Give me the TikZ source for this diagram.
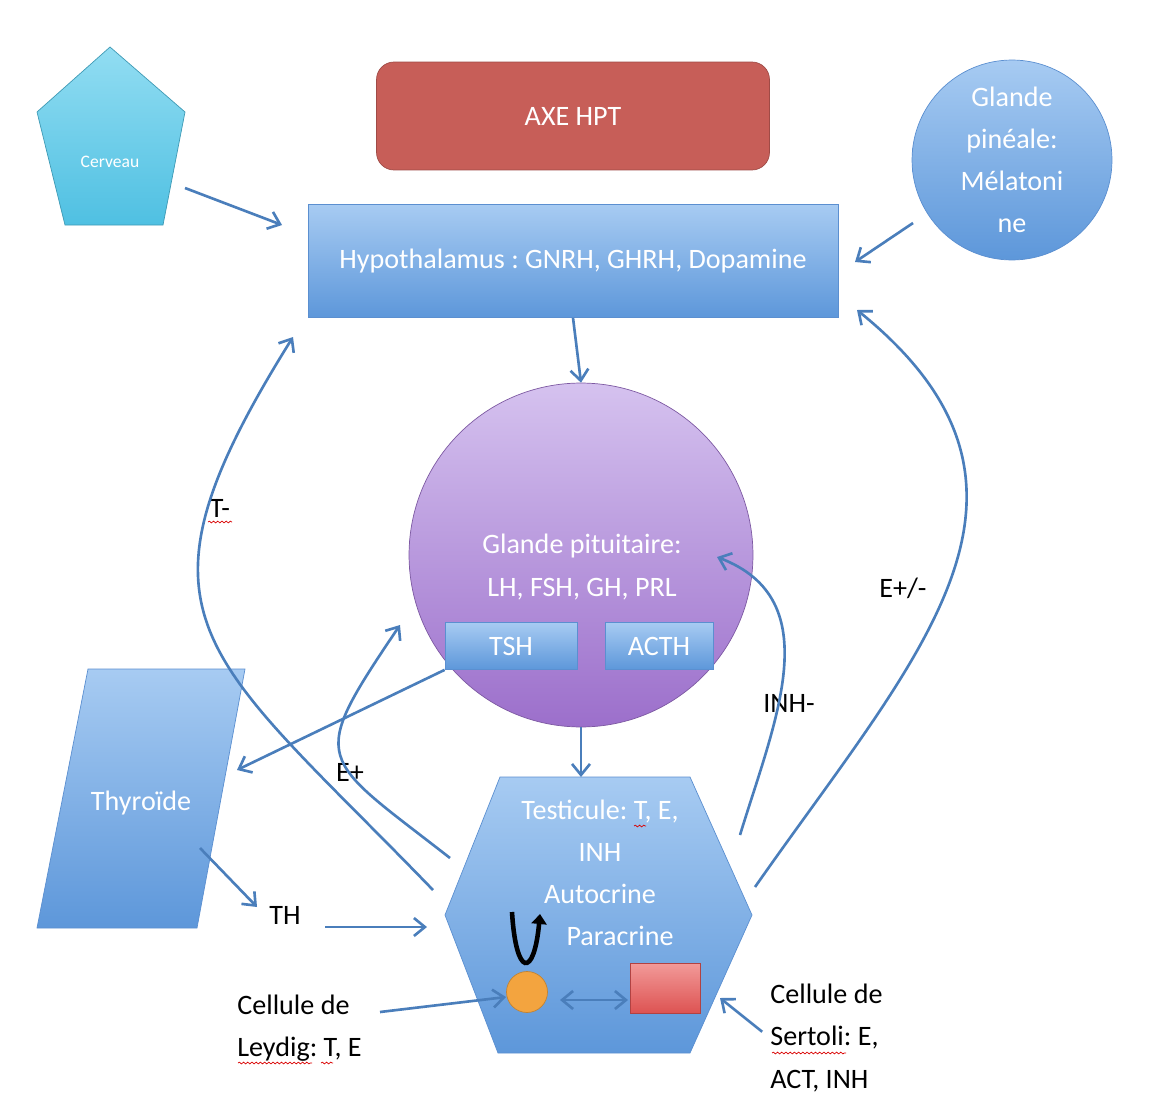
\documentclass[tikz,border=0pt]{standalone}
\usepackage{fontspec}
\setmainfont{Carlito}
\usetikzlibrary{arrows.meta,decorations.pathmorphing}
\frenchspacing

\definecolor{arrowblue}{HTML}{4A7EBB}
\definecolor{boxtop}{HTML}{A7CBF2}
\definecolor{boxbot}{HTML}{5D97DA}
\definecolor{boxline}{HTML}{5B8FD0}
\definecolor{purtop}{HTML}{D5C2EF}
\definecolor{purbot}{HTML}{9C6FCB}
\definecolor{cyantop}{HTML}{92DDF2}
\definecolor{cyanbot}{HTML}{4FC0E2}
\definecolor{axered}{HTML}{C75E58}
\definecolor{orangecell}{HTML}{F3A43F}
\definecolor{redtop}{HTML}{F29A99}
\definecolor{redbot}{HTML}{DD5352}

\newcommand{\bigtxt}{\fontsize{16}{24}\selectfont}

\tikzset{
  gland/.style={draw=boxline, top color=boxtop, bottom color=boxbot, text=white, font=\bigtxt},
  flow/.style={draw=arrowblue, line width=1.5pt, -{Straight Barb[length=2.2mm,width=3.6mm]}},
  lbl/.style={text=black, font=\bigtxt, inner sep=0pt},
  spell/.style={draw=red!85!black, line width=0.4pt, decorate, decoration={snake, amplitude=0.5pt, segment length=2.4pt}}
}

\begin{document}
\begin{tikzpicture}[x=0.02cm, y=0.02cm]
  \useasboundingbox (0,0) rectangle (1162,-1095);

  % Shapes drawn by hand
  \draw[draw=cyanbot!80!black, top color=cyantop, bottom color=cyanbot]
    (110,-47) -- (185,-112) -- (163,-225) -- (65,-225) -- (37,-112) -- cycle;
  \draw[draw=boxline, top color=boxtop, bottom color=boxbot]
    (88,-669) -- (245,-669) -- (197,-928) -- (37,-928) -- cycle;
  \draw[draw=boxline, top color=boxtop, bottom color=boxbot]
    (500,-777) coordinate (hexnw) -- (690,-777) -- (752,-915) -- (690,-1053)
    -- (498,-1053) -- (445,-915) -- cycle;

  % Nodes
  \node (cerveau) at (110,-162) [text=white, font=\fontsize{10}{12}\selectfont] {Cerveau};
  \node (axe) at (573,-116) [rectangle, rounded corners=0.35cm, draw=axered!80!black, fill=axered,
        text=white, minimum width=7.86cm, minimum height=2.16cm, font=\bigtxt] {AXE HPT};
  \node (hypo) at (573,-261) [gland, rectangle, minimum width=10.6cm, minimum height=2.26cm]
        {Hypothalamus : GNRH, GHRH, Dopamine};
  \node (pineal) at (1012,-160) [gland, circle, minimum size=4cm, inner sep=0pt, align=center]
        {Glande\\pinéale:\\Mélatoni\\ne};
  \node (pit) at (581,-555) [circle, draw=purbot!80!black, top color=purtop, bottom color=purbot,
        minimum size=6.88cm] {};
  \node (pittxt) at (582,-567) [text=white, font=\bigtxt, align=center]
        {Glande pituitaire:\\LH, FSH, GH, PRL};
  \node (tsh) at (511,-646) [gland, rectangle, minimum width=2.64cm, minimum height=0.94cm] {TSH};
  \node (acth) at (659,-646) [gland, rectangle, minimum width=2.16cm, minimum height=0.94cm] {ACTH};
  \node (thyro) at (141,-803) [text=white, font=\bigtxt] {Thyroïde};
  \node (testi) at (600,-873) [text=white, font=\bigtxt, align=center]
        {Testicule: T, E,\\INH\\Autocrine\\\hspace*{0.8cm}Paracrine};
  \node (leycell) at (527,-992) [circle, draw=orangecell!80!black, fill=orangecell,
        minimum size=0.82cm, inner sep=0pt] {};
  \node (sercell) at (665,-988) [rectangle, draw=redbot!80!black, top color=redtop, bottom color=redbot,
        minimum width=1.4cm, minimum height=1cm] {};

  % Labels
  \node (th) at (285,-915) [lbl] {TH};
  \node (eplus) at (350,-772) [lbl] {E+};
  \node (tminus) at (220,-508) [lbl] {T-};
  \node (inhminus) at (789,-703) [lbl] {INH-};
  \node (epm) at (903,-588) [lbl] {E+/-};
  \node (leydig) at (237,-1028) [lbl, anchor=west, align=left] {Cellule de\\Leydig: T, E};
  \node (sertoli) at (770,-1038) [lbl, anchor=west, align=left] {Cellule de\\Sertoli: E,\\ACT, INH};

  % Free ends
  \coordinate (cervout) at (185,-188);
  \coordinate (hypoleft) at (282,-225);
  \coordinate (pinout) at (913,-223);
  \coordinate (hyporight) at (855,-262);
  \coordinate (thyin) at (237,-770);
  \coordinate (thyout) at (200,-848);
  \coordinate (thin) at (257,-907);
  \coordinate (thout) at (325,-927);
  \coordinate (hexin) at (427,-927);
  \coordinate (eplusout) at (450,-858);
  \coordinate (eplusin) at (400,-625);
  \coordinate (tout) at (433,-890);
  \coordinate (tin) at (293,-337);
  \coordinate (inhout) at (740,-835);
  \coordinate (inhin) at (717,-557);
  \coordinate (epmout) at (755,-887);
  \coordinate (epmin) at (857,-310);
  \coordinate (leyout) at (380,-1012);
  \coordinate (leyin) at (506,-997);
  \coordinate (serin) at (720,-998);
  \coordinate (parl) at (560,-1000);
  \coordinate (parr) at (628,-1000);

  % Edges
  \draw[flow] (cervout) -- (hypoleft);
  \draw[flow] (pinout) -- (hyporight);
  \draw[flow] (hypo.south) -- (pit.north);
  \draw[flow] (pit.south) -- (pit.south |- hexnw);
  \draw[flow] (tsh.south west) -- (thyin);
  \draw[flow] (thyout) -- (thin);
  \draw[flow] (thout) -- (hexin);
  \draw[flow] (eplusout) to[out=142, in=-124, looseness=1.8] (eplusin);
  \draw[flow] (tout) to[out=134, in=-122, looseness=1.5] (tin);
  \draw[flow] (inhout) to[out=73, in=-21, looseness=1.1] (inhin);
  \draw[flow] (epmout) to[out=55, in=-39, looseness=1.25] (epmin);
  \draw[flow] (leyout) -- (leyin);
  \draw[flow, shorten <=0.2cm] (sertoli.west) -- (serin);
  \draw[flow, {Straight Barb[length=2.2mm,width=3.6mm]}-{Straight Barb[length=2.2mm,width=3.6mm]}] (parl) -- (parr);
  \draw[black, line width=2.6pt, -{Triangle[length=2mm,width=3mm]}]
    (512,-912) .. controls (516,-978) and (534,-978) .. (540,-914);

  % spelling marks
  \draw[spell] (208,-522) -- (232,-522);
  \draw[spell] (634,-826) -- (646,-826);
  \draw[spell] (238,-1063) -- (312,-1063);
  \draw[spell] (321,-1063) -- (333,-1063);
  \draw[spell] (772,-1053) -- (846,-1053);
\end{tikzpicture}
\end{document}
